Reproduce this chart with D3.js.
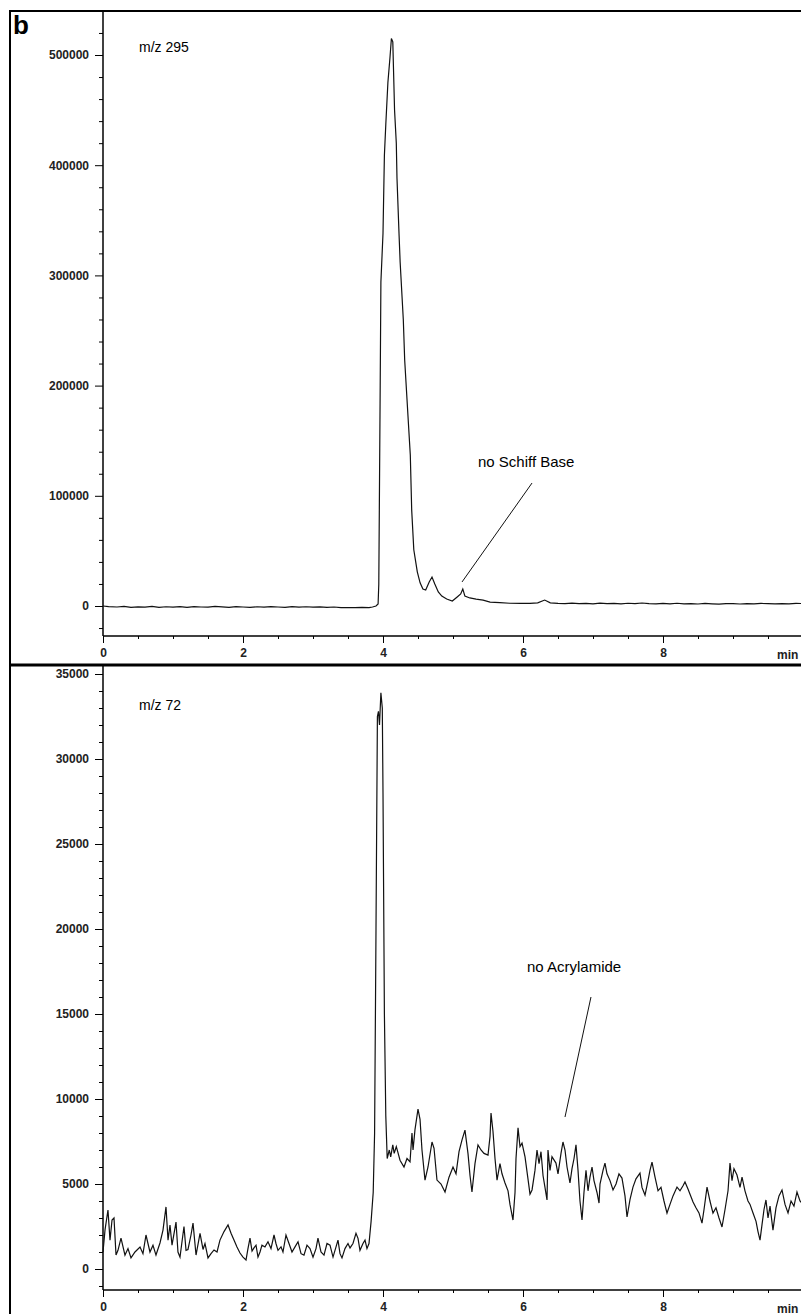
<!DOCTYPE html>
<html>
<head>
<meta charset="utf-8">
<script src="https://cdn.jsdelivr.net/npm/d3@7"></script>
<style>
  body { margin: 0; background: #fff; }
  svg { display: block; font-family: "Liberation Sans", Arial, sans-serif; }
</style>
</head>
<body>
<main></main>
<script>
// m/z 295 trace (time in min, intensity)
var mz295Time = [0.00, 0.08, 0.20, 0.30, 0.40, 0.50, 0.60, 0.70, 0.80, 0.90, 1.00, 1.10, 1.20, 1.30, 1.40, 1.50, 1.60, 1.70, 1.80, 1.90,
  2.00, 2.10, 2.20, 2.30, 2.40, 2.50, 2.60, 2.70, 2.80, 2.90, 3.00, 3.10, 3.20, 3.30, 3.40, 3.50, 3.60, 3.70, 3.80, 3.85,
  3.90, 3.93, 3.94, 3.96, 3.97, 4.00, 4.02, 4.04, 4.07, 4.10, 4.12, 4.14, 4.165, 4.19, 4.20, 4.23, 4.245, 4.29, 4.31, 4.36,
  4.39, 4.41, 4.44, 4.49, 4.53, 4.57, 4.61, 4.66, 4.70, 4.74, 4.79, 4.84, 4.91, 4.99, 5.06, 5.11, 5.14, 5.17, 5.24, 5.33,
  5.43, 5.53, 5.67, 5.81, 5.96, 6.10, 6.21, 6.31, 6.39, 6.50, 6.60, 6.70, 6.80, 6.90, 7.00, 7.10, 7.20, 7.30, 7.40, 7.50,
  7.60, 7.70, 7.80, 7.90, 8.00, 8.10, 8.20, 8.30, 8.40, 8.50, 8.60, 8.70, 8.80, 8.90, 9.00, 9.10, 9.20, 9.30, 9.40, 9.50,
  9.60, 9.70, 9.80, 9.90, 10.00];
var mz295Int = [0, -600, -900, -300, -1200, -800, -1100, -400, -1300, -700, -1000, -500, -1200, -600, -900, -1100, -400, -800, -1200, -600,
  -900, -1300, -700, -1000, -600, -900, -1200, -500, -1000, -700, -1100, -800, -1300, -900, -1500, -1500, -1400, -1300, -1500, -900,
  0, 1800, 20000, 200000, 294000, 338000, 409000, 437000, 475000, 498000, 515000, 512000, 450000, 420000, 388000, 336000, 312000, 260000, 223000, 169000,
  137000, 87000, 51000, 31000, 21000, 15400, 14500, 21800, 26300, 20000, 12700, 9000, 6300, 4500, 8200, 10900, 15400, 9000, 7300, 6300,
  5400, 3600, 3000, 2500, 2300, 2400, 2800, 5400, 2900, 2400, 2100, 2600, 2200, 2400, 2000, 2600, 2100, 2300, 2000, 2500,
  2100, 2700, 2200, 1900, 2300, 2000, 2500, 1900, 2200, 1800, 2300, 2000, 1700, 2100, 2200, 1800, 2100, 2000, 2300, 2200,
  1900, 2100, 1900, 2400, 2200];

// m/z 72 trace
var mz72Time = [0.000, 0.029, 0.071, 0.100, 0.129, 0.157, 0.186, 0.214, 0.257, 0.314, 0.357, 0.400, 0.457, 0.529, 0.571, 0.614, 0.671, 0.714, 0.757, 0.814,
  0.857, 0.900, 0.929, 0.957, 0.986, 1.043, 1.071, 1.100, 1.157, 1.186, 1.214, 1.257, 1.286, 1.329, 1.386, 1.429, 1.457, 1.500, 1.543, 1.586,
  1.629, 1.671, 1.729, 1.786, 1.829, 1.871, 1.914, 1.957, 2.000, 2.043, 2.071, 2.100, 2.129, 2.157, 2.186, 2.214, 2.243, 2.271, 2.314, 2.357,
  2.400, 2.443, 2.471, 2.500, 2.543, 2.571, 2.614, 2.657, 2.700, 2.743, 2.786, 2.829, 2.871, 2.914, 2.957, 3.000, 3.043, 3.071, 3.114, 3.157,
  3.200, 3.243, 3.286, 3.329, 3.357, 3.386, 3.414, 3.457, 3.500, 3.529, 3.571, 3.614, 3.643, 3.671, 3.714, 3.743, 3.771, 3.800, 3.830, 3.860,
  3.880, 3.900, 3.920, 3.935, 3.950, 3.970, 3.990, 4.000, 4.020, 4.040, 4.060, 4.090, 4.110, 4.140, 4.160, 4.190, 4.210, 4.243, 4.300, 4.343,
  4.386, 4.414, 4.429, 4.457, 4.500, 4.529, 4.557, 4.600, 4.643, 4.700, 4.729, 4.771, 4.829, 4.886, 4.943, 5.000, 5.043, 5.086, 5.129, 5.171,
  5.214, 5.243, 5.271, 5.314, 5.357, 5.400, 5.443, 5.500, 5.529, 5.543, 5.571, 5.600, 5.629, 5.671, 5.700, 5.743, 5.786, 5.814, 5.857, 5.886,
  5.900, 5.929, 5.957, 5.986, 6.029, 6.071, 6.100, 6.129, 6.171, 6.200, 6.229, 6.257, 6.286, 6.314, 6.343, 6.357, 6.386, 6.414, 6.471, 6.500,
  6.543, 6.571, 6.600, 6.629, 6.671, 6.700, 6.729, 6.757, 6.786, 6.814, 6.843, 6.871, 6.900, 6.929, 6.957, 6.986, 7.014, 7.057, 7.086, 7.100,
  7.143, 7.171, 7.200, 7.243, 7.286, 7.329, 7.371, 7.414, 7.457, 7.486, 7.529, 7.571, 7.614, 7.671, 7.700, 7.743, 7.786, 7.814, 7.843, 7.886,
  7.929, 7.971, 8.014, 8.057, 8.100, 8.143, 8.200, 8.243, 8.286, 8.314, 8.357, 8.386, 8.429, 8.471, 8.514, 8.557, 8.586, 8.629, 8.671, 8.714,
  8.757, 8.800, 8.843, 8.886, 8.929, 8.957, 8.986, 9.014, 9.057, 9.100, 9.129, 9.171, 9.214, 9.243, 9.286, 9.329, 9.357, 9.386, 9.414, 9.443,
  9.471, 9.500, 9.529, 9.571, 9.614, 9.657, 9.700, 9.743, 9.786, 9.829, 9.871, 9.914, 9.957, 10.000];
var mz72Int = [1000, 2300, 3470, 1700, 2880, 3000, 820, 1100, 1820, 820, 1200, 650, 1000, 1290, 900, 2000, 1000, 1400, 820, 1530,
  2290, 3650, 1700, 2590, 1400, 2760, 1000, 700, 2500, 1100, 1150, 2000, 2700, 820, 2100, 1150, 1500, 650, 900, 1120,
  1000, 1700, 2200, 2590, 2100, 1700, 1300, 940, 700, 530, 1200, 1820, 1050, 1240, 1400, 700, 1000, 1400, 1300, 1600,
  1200, 2000, 1500, 1100, 1300, 1000, 2000, 1500, 1000, 1300, 1600, 900, 820, 1400, 1200, 700, 1200, 1820, 1000, 820,
  1500, 1400, 700, 1300, 1700, 900, 650, 1200, 1500, 1240, 1500, 2100, 1800, 1100, 1500, 1700, 1200, 1500, 2800, 4500,
  8000, 20000, 32500, 32800, 32000, 33900, 33000, 28000, 15000, 9000, 6500, 7000, 6600, 7300, 6800, 7200, 6900, 6400, 6000, 6500,
  6300, 8000, 7000, 8200, 9400, 8800, 7000, 5230, 6000, 7470, 7100, 5230, 5000, 4530, 5400, 6000, 5600, 6900, 7600, 8170,
  6800, 5500, 4530, 6200, 7300, 7000, 6800, 6700, 7800, 9170, 8100, 6500, 5230, 6200, 5600, 5060, 4600, 3800, 2880, 4500,
  6500, 8300, 7200, 7400, 6600, 5300, 4400, 4650, 5800, 7000, 6200, 6900, 5500, 4800, 4060, 7000, 5800, 6600, 6230, 5600,
  6800, 7470, 7000, 6000, 5060, 5900, 6500, 7300, 5800, 4000, 2880, 4500, 5800, 4600, 5400, 6000, 5200, 4500, 3880, 5000,
  5800, 6230, 5600, 5200, 4650, 5000, 5600, 5350, 4300, 3060, 4100, 4820, 5300, 5640, 4800, 4350, 5200, 5800, 6290, 5400,
  4600, 4800, 4000, 3290, 3800, 4300, 4820, 4600, 4900, 5120, 4700, 4400, 3940, 3600, 3300, 2700, 3500, 4820, 4000, 3290,
  3600, 3000, 2470, 3500, 4600, 6230, 5200, 5900, 5530, 4800, 5400, 4600, 4000, 3800, 3290, 2800, 2200, 1700, 2600, 3500,
  4060, 3000, 3700, 2290, 3600, 4300, 4650, 3800, 3300, 4000, 3700, 4530, 4000, 3800];

// axis ticks
var xMajor = [0, 2, 4, 6, 8];
var topMajor = [0, 100000, 200000, 300000, 400000, 500000];
var botMajor = [0, 5000, 10000, 15000, 20000, 25000, 30000, 35000];

var W = 801, H = 1314;
var svg = d3.select('main').append('svg')
    .attr('width', W)
    .attr('height', H);

// shared time scale
var x = d3.scaleLinear().domain([0, 10]).range([103, 803]);

var panels = [
  { label: 'm/z 295', time: mz295Time, vals: mz295Int, major: topMajor, minorStep: 20000,
    y: d3.scaleLinear().domain([0, 500000]).range([606, 55]), top: 11, bottom: 636, labelY: 52,
    note: { text: 'no Schiff Base', tx: 5.357, ty: 126000, x1: 6.129, y1: 111600, x2: 5.129, y2: 21800 } },
  { label: 'm/z 72', time: mz72Time, vals: mz72Int, major: botMajor, minorStep: 1000,
    y: d3.scaleLinear().domain([0, 35000]).range([1269, 674]), top: 666, bottom: 1290, labelY: 710,
    note: { text: 'no Acrylamide', tx: 6.057, ty: 17460, x1: 6.971, y1: 16000, x2: 6.6, y2: 8940 } }
];

panels.forEach(function(p, i) {
  var g = svg.append('g');
  var lo = p.y.invert(p.bottom), hi = p.y.invert(p.top);

  // minor ticks
  var minor = d3.range(Math.ceil(lo / p.minorStep) * p.minorStep, hi, p.minorStep)
    .filter(function(v) { return p.major.indexOf(v) < 0; });
  g.append('g')
    .attr('transform', 'translate(103,0)')
    .call(d3.axisLeft(p.y).tickValues(minor).tickSize(4).tickFormat(''))
    .call(function(a) { a.select('.domain').remove(); });

  // major y ticks
  g.append('g')
    .attr('transform', 'translate(103,0)')
    .call(d3.axisLeft(p.y).tickValues(p.major).tickSize(8).tickPadding(6).tickFormat(d3.format('d')))
    .call(function(a) {
      a.select('.domain').remove();
      a.selectAll('text').attr('font-size', 12).attr('font-weight', 'bold').attr('fill', '#222');
    });

  // y axis line
  g.append('line')
    .attr('x1', 103).attr('x2', 103)
    .attr('y1', p.top).attr('y2', p.bottom)
    .attr('stroke', '#000').attr('stroke-width', 1.5);

  // x axis
  var xMinor = d3.range(0.5, 10, 0.5).filter(function(v) { return v % 2 !== 0; });
  g.append('g')
    .attr('transform', 'translate(0,' + p.bottom + ')')
    .call(d3.axisBottom(x).tickValues(xMinor).tickSize(3).tickFormat(''))
    .call(function(a) { a.select('.domain').remove(); });
  g.append('g')
    .attr('transform', 'translate(0,' + p.bottom + ')')
    .call(d3.axisBottom(x).tickValues(xMajor).tickSize(7).tickPadding(5).tickFormat(d3.format('d')))
    .call(function(a) {
      a.select('.domain').remove();
      a.selectAll('text').attr('font-size', 12).attr('font-weight', 'bold').attr('fill', '#222');
    });
  g.append('line')
    .attr('x1', 103).attr('x2', W)
    .attr('y1', p.bottom).attr('y2', p.bottom)
    .attr('stroke', '#000').attr('stroke-width', 1.5);
  g.append('text')
    .attr('x', 777).attr('y', p.bottom + 23)
    .attr('font-size', 12).attr('font-weight', 'bold').attr('fill', '#222')
    .text('min');

  // trace
  var pts = p.time.map(function(t, k) { return [t, p.vals[k]]; });
  g.append('path')
    .datum(pts)
    .attr('fill', 'none')
    .attr('stroke', '#111')
    .attr('stroke-width', 1.2)
    .attr('d', d3.line().x(function(d) { return x(d[0]); }).y(function(d) { return p.y(d[1]); }));

  // ion label
  g.append('text')
    .attr('x', 139).attr('y', p.labelY)
    .attr('font-size', 14)
    .text(p.label);

  // annotation
  g.append('line')
    .attr('x1', x(p.note.x1)).attr('y1', p.y(p.note.y1))
    .attr('x2', x(p.note.x2)).attr('y2', p.y(p.note.y2))
    .attr('stroke', '#111').attr('stroke-width', 1);
  g.append('text')
    .attr('x', x(p.note.tx)).attr('y', p.y(p.note.ty))
    .attr('font-size', 15)
    .text(p.note.text);
});

// outer frame and divider
svg.append('line').attr('x1', 10).attr('x2', 10).attr('y1', 10).attr('y2', H)
  .attr('stroke', '#000').attr('stroke-width', 2);
svg.append('line').attr('x1', 10).attr('x2', W).attr('y1', 11).attr('y2', 11)
  .attr('stroke', '#000').attr('stroke-width', 2);
svg.append('line').attr('x1', 10).attr('x2', W).attr('y1', 665).attr('y2', 665)
  .attr('stroke', '#000').attr('stroke-width', 3);

// panel letter
svg.append('text')
  .attr('x', 13).attr('y', 34)
  .attr('font-size', 26).attr('font-weight', 'bold')
  .text('b');
</script>
</body>
</html>
